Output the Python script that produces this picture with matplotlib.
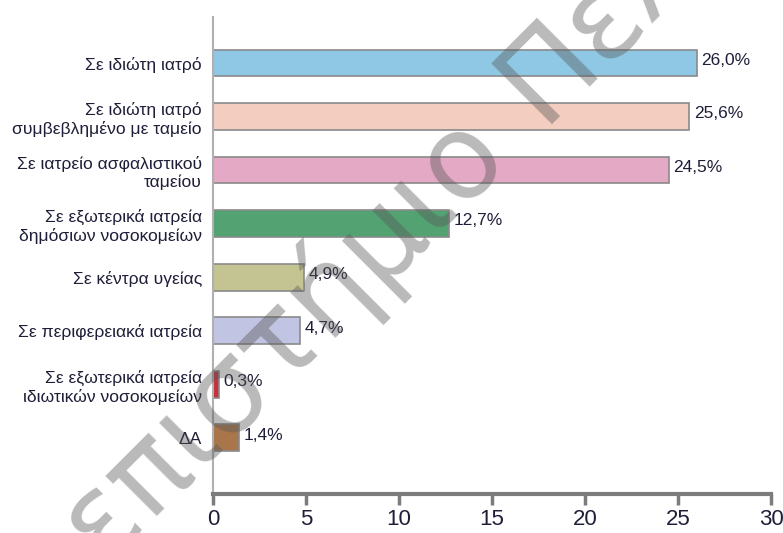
import matplotlib
matplotlib.use("Agg")
import matplotlib.pyplot as plt

categories = [
    "Σε ιδιώτη ιατρό",
    "Σε ιδιώτη ιατρό\nσυμβεβλημένο με ταμείο",
    "Σε ιατρείο ασφαλιστικού\nταμείου",
    "Σε εξωτερικά ιατρεία\nδημόσιων νοσοκομείων",
    "Σε κέντρα υγείας",
    "Σε περιφερειακά ιατρεία",
    "Σε εξωτερικά ιατρεία\nιδιωτικών νοσοκομείων",
    "ΔΑ",
]
values = [26.0, 25.6, 24.5, 12.7, 4.9, 4.7, 0.3, 1.4]
value_labels = ["26,0%", "25,6%", "24,5%", "12,7%", "4,9%", "4,7%", "0,3%", "1,4%"]
colors = ["#8ec8e5", "#f3cdbf", "#e4a9c4", "#52a272", "#c4c392",
          "#c1c4e2", "#c8313b", "#a8764a"]
xticks = [0, 5, 10, 15, 20, 25, 30]

plt.rcParams["font.family"] = ["Liberation Sans", "DejaVu Sans"]

txt = "#1e1e38"
fig = plt.figure(figsize=(7.83, 5.33), dpi=100)
ax = fig.add_axes([213 / 783, 1 - 494 / 533, 558 / 783, 477 / 533])

n = len(categories)
ypos = [n - 1 - i for i in range(n)]
ax.barh(ypos, values, height=0.5, color=colors, edgecolor="#8a8a8a", linewidth=1.2, zorder=2)
for y, v, lab in zip(ypos, values, value_labels):
    ax.text(v + 0.25, y + 0.05, lab, va="center", ha="left", fontsize=12.5, color=txt)

ax.set_xlim(0, 30)
ax.set_ylim(-1.05, n - 1 + 0.86)
ax.set_xticks(xticks)
ax.set_xticklabels([str(t) for t in xticks], fontsize=16, color=txt)
ax.set_yticks(ypos)
ax.set_yticklabels(categories, fontsize=12.6, color=txt, linespacing=1.22)

for s in ["top", "right"]:
    ax.spines[s].set_visible(False)
ax.spines["left"].set_color("#b0b0b0")
ax.spines["left"].set_linewidth(1.5)
ax.spines["bottom"].set_color("#7c7c7c")
ax.spines["bottom"].set_linewidth(3)
ax.tick_params(axis="x", direction="out", length=8, width=2.5, color="#7c7c7c", pad=3)
ax.tick_params(axis="y", length=0, pad=8)

# translucent watermark across the chart, in two words
wm = dict(rotation=45, rotation_mode="anchor", va="baseline", fontsize=84,
          family="DejaVu Sans", color=(0.35, 0.35, 0.35, 0.42), zorder=10)
fig.text(509 / 783, 1 - 154 / 533, "Πανεπιστήμιο", ha="right", **wm)
fig.text(541 / 783, 1 - 124 / 533, "Πελοποννήσου", ha="left", **wm)

fig.savefig("out.png", dpi=100)
